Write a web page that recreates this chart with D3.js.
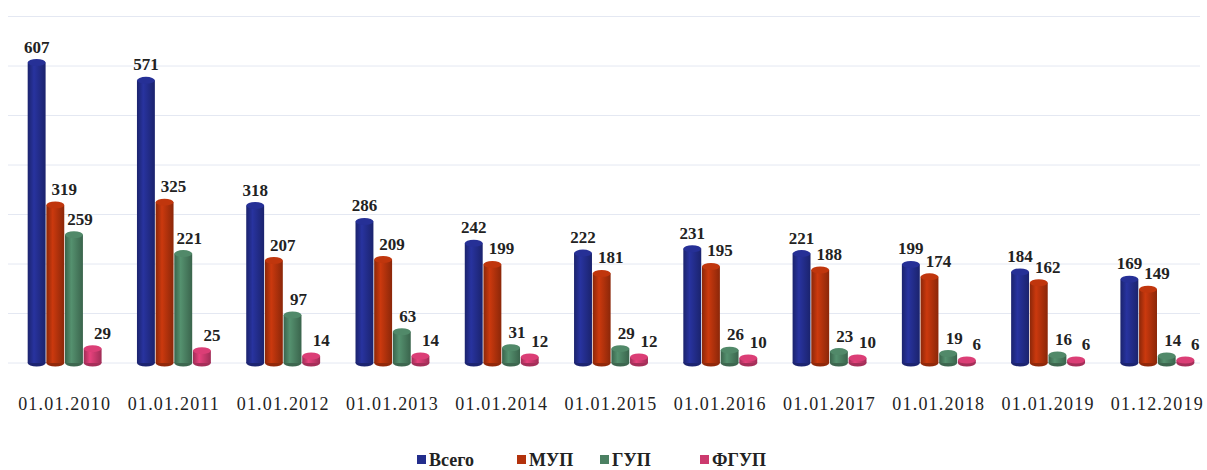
<!DOCTYPE html>
<html>
<head>
<meta charset="utf-8">
<script src="https://cdn.jsdelivr.net/npm/d3@7"></script>
<style>
  body { margin: 0; background: #fff; }
  svg { display: block; }
  svg text, #chart text { font-family: 'Liberation Serif', serif !important; }
</style>
</head>
<body>
<svg id="chart" width="1207" height="470"></svg>
<script>
// categories and series
const dates = ['01.01.2010', '01.01.2011', '01.01.2012', '01.01.2013', '01.01.2014', '01.01.2015',
  '01.01.2016', '01.01.2017', '01.01.2018', '01.01.2019', '01.12.2019'];
const seriesNames = ['Всего', 'МУП', 'ГУП', 'ФГУП'];
const total = [607, 571, 318, 286, 242, 222, 231, 221, 199, 184, 169];
const mup = [319, 325, 207, 209, 199, 181, 195, 188, 174, 162, 149];
const gup = [259, 221, 97, 63, 31, 29, 26, 23, 19, 16, 14];
const fgup = [29, 25, 14, 14, 12, 12, 10, 10, 6, 6, 6];
const yTicks = [0, 100, 200, 300, 400, 500, 600, 700];

const seriesValues = [total, mup, gup, fgup];
const colors = ['#232d8c', '#b3320c', '#4b8062', '#cc3a6e'];
const labelShift = [0, 9, 6, 10]; // value labels sit a little right of the bar, as in the picture
const SERIF = 'Liberation Serif';

const svg = d3.select('#chart');
const base = 363;

const x = d3.scaleBand().domain(dates).range([10, 1212]).paddingInner(0.31).paddingOuter(0.155);
const xs = d3.scaleBand().domain(seriesNames).range([0, x.bandwidth()]).padding(0.04);
const y = d3.scaleLinear().domain([0, 700]).range([base, base - 700 * 0.495]);

// cylinder shading
const defs = svg.append('defs');
colors.forEach((c, i) => {
  const g = defs.append('linearGradient').attr('id', 'cyl' + i).attr('x1', 0).attr('x2', 1);
  const dark = d3.color(c).darker(0.7), light = d3.color(c).brighter(0.35);
  g.append('stop').attr('offset', '0%').attr('stop-color', dark);
  g.append('stop').attr('offset', '35%').attr('stop-color', light);
  g.append('stop').attr('offset', '100%').attr('stop-color', dark);
});

// faint gridlines
svg.append('g')
  .selectAll('line')
  .data(yTicks)
  .join('line')
  .attr('x1', 8).attr('x2', 1200)
  .attr('y1', d => y(d)).attr('y2', d => y(d))
  .attr('stroke', '#e4e8f2')
  .attr('stroke-width', 1);

const rows = dates.map((d, i) => ({
  date: d,
  bars: seriesNames.map((s, j) => ({ s, j, v: seriesValues[j][i] }))
}));

const groups = svg.append('g')
  .selectAll('g')
  .data(rows)
  .join('g')
  .attr('transform', d => `translate(${x(d.date)},0)`);

const bw = xs.bandwidth();
const ry = 3.5;

const bar = groups.selectAll('g.bar')
  .data(d => d.bars)
  .join('g')
  .attr('class', 'bar');

bar.append('ellipse')
  .attr('cx', d => xs(d.s) + bw / 2)
  .attr('cy', base)
  .attr('rx', bw / 2).attr('ry', ry)
  .attr('fill', d => d3.color(colors[d.j]).darker(0.6));

bar.append('rect')
  .attr('x', d => xs(d.s))
  .attr('y', d => y(d.v))
  .attr('width', bw)
  .attr('height', d => base - y(d.v))
  .attr('fill', d => `url(#cyl${d.j})`);

bar.append('ellipse')
  .attr('cx', d => xs(d.s) + bw / 2)
  .attr('cy', d => y(d.v))
  .attr('rx', bw / 2).attr('ry', ry)
  .attr('fill', d => d3.color(colors[d.j]).brighter(0.2));

bar.append('text')
  .attr('x', d => xs(d.s) + bw / 2 + labelShift[d.j])
  .attr('y', d => y(d.v) - 10)
  .attr('text-anchor', 'middle')
  .attr('font-family', SERIF)
  .attr('font-size', 17)
  .attr('font-weight', 'bold')
  .attr('fill', '#222')
  .text(d => d.v);

// category labels
svg.append('g')
  .attr('transform', `translate(0,${base})`)
  .call(d3.axisBottom(x).tickSize(0).tickPadding(34))
  .call(g => g.select('.domain').remove())
  .attr('font-family', SERIF)
  .selectAll('text')
  .attr('font-family', SERIF)
  .attr('font-size', 18)
  .attr('letter-spacing', 1.2)
  .attr('fill', '#222');

// legend
const legendX = [417, 517, 600, 700];
const legend = svg.append('g')
  .selectAll('g')
  .data(seriesNames)
  .join('g')
  .attr('transform', (d, i) => `translate(${legendX[i]},460)`);

legend.append('rect')
  .attr('x', 0).attr('y', -5)
  .attr('width', 9).attr('height', 9)
  .attr('fill', (d, i) => colors[i]);

legend.append('text')
  .attr('x', 12).attr('y', 6)
  .attr('font-family', SERIF)
  .attr('font-size', 18)
  .attr('font-weight', 'bold')
  .attr('fill', '#222')
  .text(d => d);
</script>
</body>
</html>
